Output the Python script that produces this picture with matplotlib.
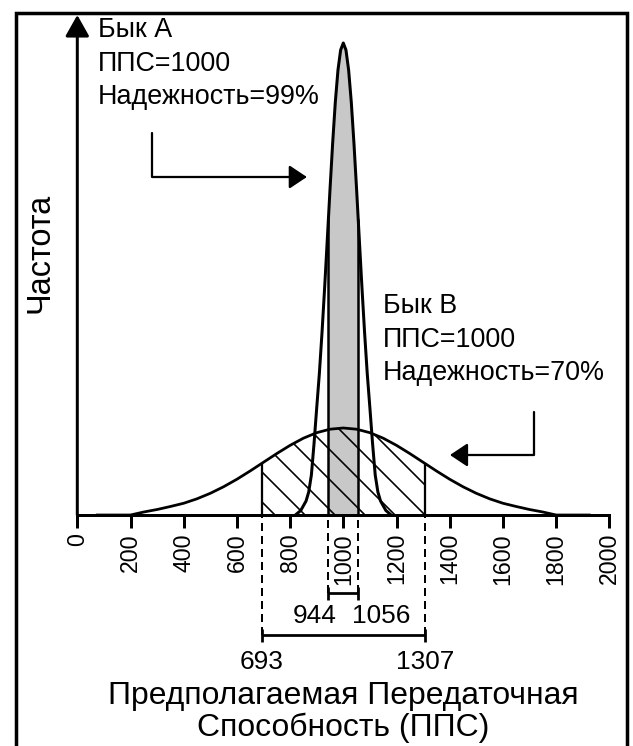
import numpy as np
import matplotlib.pyplot as plt
from matplotlib.patches import Rectangle

plt.rcParams['font.family'] = ['Liberation Sans', 'DejaVu Sans']
plt.rcParams['hatch.linewidth'] = 1.3

DPI = 90

# Бык А (надежность 99 %) - узкая кривая
a_x = [820, 840, 860, 870, 880, 890, 900, 910, 920, 930, 940, 944, 950, 960, 970, 980, 990,
       1000, 1010, 1020, 1030, 1040, 1050, 1056, 1060, 1070, 1080, 1090, 1100, 1110, 1120,
       1130, 1140, 1160, 1180]
a_y = [0, 0.9, 2.8, 4.6, 8.0, 14.3, 21.4, 28.3, 36.5, 45.6, 55.3, 59.2, 65.1, 74.4, 82.6, 89.0, 93.0,
       94.4, 93.0, 89.0, 82.6, 74.4, 65.1, 59.2, 55.3, 45.6, 36.5, 28.3, 21.4, 14.3, 8.0,
       4.6, 2.8, 0.9, 0]

# Бык В (надежность 70 %) - широкая кривая
b_x = [75, 200, 250, 300, 350, 400, 450, 500, 550, 600, 650, 693, 700, 750, 800, 850, 900, 950,
       1000, 1050, 1100, 1150, 1200, 1250, 1300, 1307, 1350, 1400, 1450, 1500, 1550, 1600,
       1650, 1700, 1750, 1800, 1925]
b_y = [0, 0, 0.6, 1.1, 1.7, 2.35, 3.24, 4.34, 5.65, 7.15, 8.81, 10.31, 10.55, 12.29, 13.93, 15.36,
       16.46, 17.16, 17.4, 17.16, 16.46, 15.36, 13.93, 12.29, 10.55, 10.31, 8.81, 7.15, 5.65,
       4.34, 3.24, 2.35, 1.7, 1.1, 0.6, 0, 0]

# интервалы
a_lo, a_hi = 944, 1056
b_lo, b_hi = 693, 1307

x_ticks = list(range(0, 2001, 200))

text_a = "Бык А\nППС=1000\nНадежность=99%"
text_b = "Бык В\nППС=1000\nНадежность=70%"

a_x, a_y = np.array(a_x), np.array(a_y)
b_x, b_y = np.array(b_x), np.array(b_y)

fig = plt.figure(figsize=(633 / DPI, 746 / DPI), dpi=DPI)
ax = fig.add_axes([77.3 / 633, (746 - 515) / 746, 532 / 633, 500 / 746])
ax.set_xlim(0, 2000)
ax.set_ylim(0, 100)

for s in ("top", "right", "left"):
    ax.spines[s].set_visible(False)
ax.spines["bottom"].set_linewidth(2.4)
ax.set_yticks([])
ax.set_xticks(x_ticks)
ax.set_xticklabels([str(t) for t in x_ticks], rotation=90)
ax.tick_params(axis="x", direction="out", length=10.4, width=2.4, pad=4, labelsize=18.5)

# ось частоты со стрелкой
ax.annotate("", xy=(0, 100), xytext=(0, 0), annotation_clip=False,
            arrowprops=dict(arrowstyle="-|>,head_length=0.8,head_width=0.45",
                            lw=2.4, color="black", mutation_scale=18,
                            shrinkA=0, shrinkB=0))

# заливки
in_a = (a_x >= a_lo) & (a_x <= a_hi)
ax.fill_between(a_x, a_y, where=in_a, color="#c8c8c8", lw=0, zorder=1)
in_b = (b_x >= b_lo) & (b_x <= b_hi)
ax.fill_between(b_x, b_y, where=in_b, facecolor="none", edgecolor="black",
                hatch="\\", lw=0, zorder=2)

# кривые
ax.plot(b_x, b_y, color="black", lw=2.2, zorder=3, clip_on=False)
ax.plot(a_x, a_y, color="black", lw=2.4, zorder=3, clip_on=False)

# границы интервалов
a_edge = [a_y[list(a_x).index(v)] for v in (a_lo, a_hi)]
b_edge = [b_y[list(b_x).index(v)] for v in (b_lo, b_hi)]
ax.vlines([a_lo, a_hi], 0, a_edge, color="black", lw=2.0, zorder=3)
ax.vlines([b_lo, b_hi], 0, b_edge, color="black", lw=1.8, zorder=3)

# скобки под осью
y_br_a, y_br_b = -15.6, -24.0
dash = (0, (4, 2.5))
ax.vlines([a_lo, a_hi], y_br_a, 0, color="black", lw=1.6, linestyles=[dash], clip_on=False)
ax.vlines([b_lo, b_hi], y_br_b, 0, color="black", lw=1.6, linestyles=[dash], clip_on=False)
for lo, hi, yb in ((a_lo, a_hi, y_br_a), (b_lo, b_hi, y_br_b)):
    ax.hlines(yb, lo, hi, color="black", lw=2.2, clip_on=False)
    ax.vlines([lo, hi], yb - 1.3, yb + 1.3, color="black", lw=2.2, clip_on=False)

ax.text(976, -20.2, str(a_lo), ha="right", va="center", fontsize=21)
ax.text(1033, -20.2, str(a_hi), ha="left", va="center", fontsize=21)
ax.text(b_lo, -29.4, str(b_lo), ha="center", va="center", fontsize=21)
ax.text(b_hi, -29.4, str(b_hi), ha="center", va="center", fontsize=21)

# подписи быков и стрелки (va="baseline" - по последней строке)
ax.text(78, 82.2, text_a, ha="left", va="baseline", fontsize=21.5, linespacing=1.37)
ax.text(1149, 27.0, text_b, ha="left", va="baseline", fontsize=21.5, linespacing=1.37)

arrow_kw = dict(arrowstyle="-|>,head_length=0.75,head_width=0.5", lw=1.8,
                color="black", mutation_scale=16, shrinkA=0, shrinkB=0)
ax.annotate("", xy=(863, 67.6), xytext=(281, 76.4),
            arrowprops=dict(connectionstyle="angle,angleA=90,angleB=0,rad=0", **arrow_kw))
ax.annotate("", xy=(1401, 12.0), xytext=(1717, 20.6),
            arrowprops=dict(connectionstyle="angle,angleA=90,angleB=0,rad=0", **arrow_kw))

# подписи осей
fig.text(343.3 / 633, 1 - 712 / 746, "Предполагаемая Передаточная\nСпособность (ППС)",
         ha="center", va="center", fontsize=25.5, linespacing=1.06)
fig.text(40 / 633, 1 - 253 / 746, "Частота", rotation=90, ha="center", va="center",
         fontsize=26)

# рамка
fig.add_artist(Rectangle((15.5 / 633, -0.05), (627 - 15.5) / 633, 1.05 - 13 / 746,
                         transform=fig.transFigure, fill=False, lw=2.8, ec="black"))

fig.savefig("out.png", dpi=DPI)
